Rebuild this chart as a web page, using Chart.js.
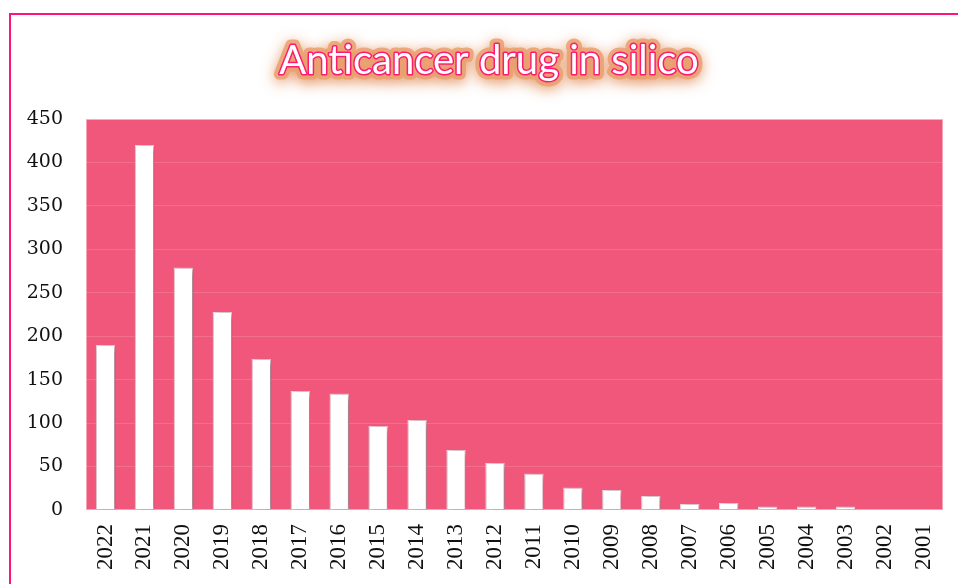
<!DOCTYPE html>
<html>
<head>
<meta charset="utf-8">
<script src="https://cdn.jsdelivr.net/npm/chart.js@4.4.1/dist/chart.umd.min.js"></script>
<style>
  html, body { margin: 0; padding: 0; background: #fff; }
  #wrap { position: relative; width: 958px; height: 584px; overflow: hidden; }
  #frame {
    position: absolute; left: 9px; top: 13px; width: 980px; height: 600px;
    border: 2px solid #ff1478; box-sizing: border-box;
  }
  #chart { position: absolute; left: 0; top: 0; }
</style>
</head>
<body>
<div id="wrap">
  <div id="frame"></div>
  <canvas id="chart" width="958" height="584"></canvas>
</div>
<script>
const years = ['2022', '2021', '2020', '2019', '2018', '2017', '2016', '2015', '2014', '2013', '2012',
  '2011', '2010', '2009', '2008', '2007', '2006', '2005', '2004', '2003', '2002', '2001'];
const paperCounts = [190, 420, 279, 228, 174, 137, 134, 97, 104, 69, 54, 42, 26, 23, 16, 7, 8, 4, 4, 4, 0, 0];
const yMax = 450;
const yStep = 50;
const chartTitle = 'Anticancer drug in silico';

// pink plot background with a faint light edge
const plotBackground = {
  id: 'plotBackground',
  beforeDraw(chart) {
    const { ctx, chartArea: a } = chart;
    ctx.save();
    ctx.fillStyle = '#f0577b';
    ctx.fillRect(a.left, a.top, a.right - a.left, a.bottom - a.top);
    ctx.strokeStyle = 'rgba(255,220,228,0.55)';
    ctx.lineWidth = 1;
    ctx.strokeRect(a.left + 0.5, a.top + 0.5, a.right - a.left - 1, a.bottom - a.top - 1);
    ctx.restore();
  }
};

// soft drop shadow behind the bars
const barShadow = {
  id: 'barShadow',
  beforeDatasetDraw(chart) {
    const ctx = chart.ctx;
    ctx.save();
    ctx.shadowColor = 'rgba(90,20,40,0.6)';
    ctx.shadowBlur = 7;
    ctx.shadowOffsetX = 3;
    ctx.shadowOffsetY = 2;
  },
  afterDatasetDraw(chart) {
    chart.ctx.restore();
  }
};

// outlined title with an orange glow
const glowTitle = {
  id: 'glowTitle',
  afterDraw(chart) {
    const ctx = chart.ctx;
    const x = 489, y = 74;
    ctx.save();
    ctx.font = '40px Lato, "Open Sans", sans-serif';
    ctx.textAlign = 'center';
    ctx.textBaseline = 'alphabetic';
    ctx.lineJoin = 'round';
    ctx.shadowColor = 'rgba(225,135,80,0.95)';
    ctx.shadowBlur = 14;
    ctx.shadowOffsetY = 3;
    ctx.strokeStyle = 'rgba(234,160,112,0.85)';
    ctx.lineWidth = 11;
    ctx.strokeText(chartTitle, x, y);
    ctx.shadowColor = 'transparent';
    ctx.strokeStyle = '#ff1a70';
    ctx.lineWidth = 3;
    ctx.strokeText(chartTitle, x, y);
    ctx.fillStyle = '#ffffff';
    ctx.fillText(chartTitle, x, y);
    ctx.restore();
  }
};

new Chart(document.getElementById('chart'), {
  type: 'bar',
  data: {
    labels: years,
    datasets: [{
      data: paperCounts,
      backgroundColor: '#ffffff',
      borderColor: 'rgba(235,225,228,1)',
      borderWidth: 1,
      barPercentage: 0.5,
      categoryPercentage: 1.0
    }]
  },
  options: {
    responsive: false,
    animation: false,
    layout: { padding: { top: 119, right: 15, left: 0, bottom: 0 } },
    plugins: {
      legend: { display: false },
      tooltip: { enabled: false },
      title: { display: false }
    },
    scales: {
      x: {
        grid: { display: false },
        border: { display: false },
        ticks: {
          color: '#111',
          font: { family: '"Liberation Serif", serif', size: 23 },
          minRotation: 90,
          maxRotation: 90,
          padding: 6,
          autoSkip: false
        },
        afterFit(scale) { scale.height = 74; }
      },
      y: {
        min: 0,
        max: yMax,
        grid: { color: 'rgba(255,255,255,0.14)', drawTicks: false },
        border: { display: false },
        ticks: {
          stepSize: yStep,
          color: '#111',
          font: { family: '"DejaVu Serif", serif', size: 19 },
          padding: 23
        },
        afterFit(scale) { scale.width = 86; }
      }
    }
  },
  plugins: [plotBackground, barShadow, glowTitle]
});
</script>
</body>
</html>
